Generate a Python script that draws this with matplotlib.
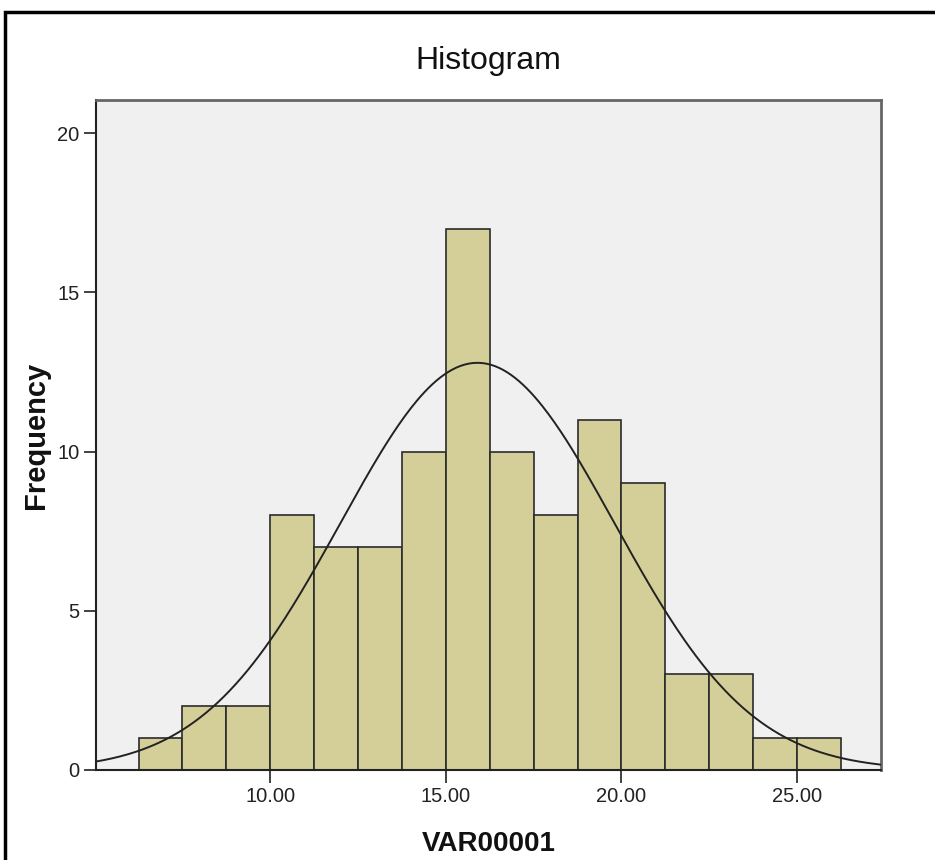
import numpy as np
import matplotlib
matplotlib.use("Agg")
import matplotlib.pyplot as plt
from matplotlib.patches import Rectangle

# histogram bins (width 1.25) and counts
bin_edges = [6.25, 7.5, 8.75, 10.0, 11.25, 12.5, 13.75, 15.0, 16.25,
             17.5, 18.75, 20.0, 21.25, 22.5, 23.75, 25.0, 26.25]
counts = [1, 2, 2, 8, 7, 7, 10, 17, 10, 8, 11, 9, 3, 3, 1, 1]

# normal curve parameters (estimated)
mean = 15.9
sd = 3.9
n = sum(counts)

x_ticks = [10, 15, 20, 25]
x_ticklabels = ["10.00", "15.00", "20.00", "25.00"]
y_ticks = [0, 5, 10, 15, 20]

plt.rcParams["font.family"] = ["Liberation Sans", "DejaVu Sans"]

fig = plt.figure(figsize=(9.35, 8.6), dpi=100)
ax = fig.add_axes([0.1027, 0.1047, 0.8395, 0.779])
ax.set_facecolor("#f0f0f0")

widths = np.diff(bin_edges)
ax.bar(bin_edges[:-1], counts, width=widths, align="edge",
       color="#d4cf98", edgecolor="#2b2b2b", linewidth=1.2, zorder=2)

xlim = (5.04, 27.39)
xs = np.linspace(xlim[0], xlim[1], 400)
bw = bin_edges[1] - bin_edges[0]
ys = n * bw / (sd * np.sqrt(2 * np.pi)) * np.exp(-0.5 * ((xs - mean) / sd) ** 2)
ax.plot(xs, ys, color="#222222", linewidth=1.4, zorder=3)

ax.set_xlim(*xlim)
ax.set_ylim(0, 21.04)
ax.set_xticks(x_ticks)
ax.set_xticklabels(x_ticklabels)
ax.set_yticks(y_ticks)
ax.tick_params(axis="both", direction="out", length=9, width=1.3,
               color="#333333", labelsize=14.5, labelcolor="#222222", pad=3)

for side in ["left", "bottom"]:
    ax.spines[side].set_color("#222222")
    ax.spines[side].set_linewidth(1.5)
for side in ["top", "right"]:
    ax.spines[side].set_color("#666666")
    ax.spines[side].set_linewidth(2)

ax.set_title("Histogram", fontsize=23, pad=22, color="#111111")
ax.set_xlabel("VAR00001", fontsize=20, fontweight="bold", labelpad=18, color="#111111")
ax.set_ylabel("Frequency", fontsize=21, fontweight="bold", labelpad=5, color="#111111")

# outer frame of the output window
fig.patches.append(Rectangle((5 / 935, -0.1), 1.2, 1.1 - 12 / 860,
                             transform=fig.transFigure, fill=False,
                             edgecolor="black", linewidth=2.5))

fig.savefig("out.png", dpi=100)
